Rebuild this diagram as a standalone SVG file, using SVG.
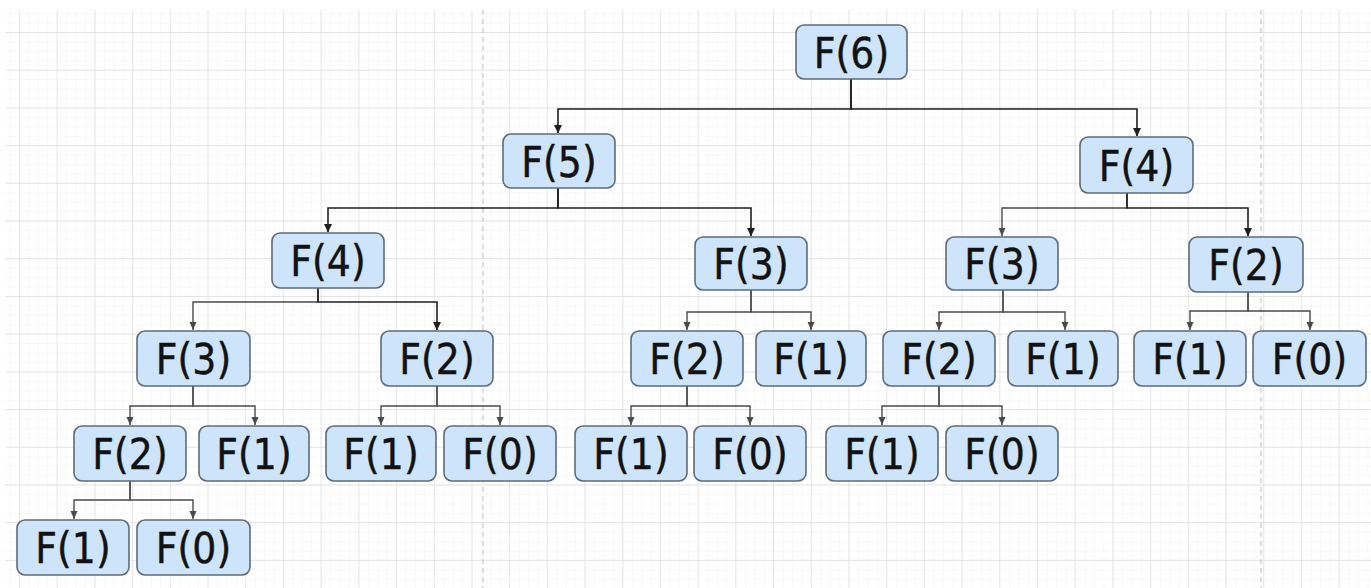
<svg xmlns="http://www.w3.org/2000/svg" width="1371" height="588" viewBox="0 0 1371 588">
  <defs>
    <pattern id="minor" x="19" y="32" width="9.43" height="9.43" patternUnits="userSpaceOnUse">
      <path d="M0,0 V9.43 M0,0 H9.43" fill="none" stroke="#efefef" stroke-width="1"/>
    </pattern>
    <pattern id="major" x="19" y="32" width="37.7" height="37.7" patternUnits="userSpaceOnUse">
      <path d="M0,0 V37.7 M0,0 H37.7" fill="none" stroke="#dddddd" stroke-width="1.3"/>
    </pattern>
    <marker id="arrDark" markerWidth="9" markerHeight="9" refX="8" refY="4.5" orient="auto" markerUnits="userSpaceOnUse">
      <path d="M0,0.5 L8.5,4.5 L0,8.5 Z" fill="#1e1e1e"/>
    </marker>
    <marker id="arrGray" markerWidth="9" markerHeight="9" refX="8" refY="4" orient="auto" markerUnits="userSpaceOnUse">
      <path d="M0,0.5 L8,4 L0,7.5 Z" fill="#4a4a4a"/>
    </marker>
  </defs>
  <style>
    .node rect { fill: #cde4fb; stroke: #5f6b78; stroke-width: 1.6; }
    .node text { font-family: 'DejaVu Sans Condensed', 'DejaVu Sans', sans-serif; font-stretch: semi-condensed; font-size: 42px; fill: #121212; stroke: #121212; stroke-width: 0.4; text-anchor: middle; }
    .top { fill: none; stroke: #1e1e1e; stroke-width: 1.6; marker-end: url(#arrDark); }
    .low { fill: none; stroke: #4a4a4a; stroke-width: 1.4; marker-end: url(#arrGray); }
    .guide { stroke: #bdbdbd; stroke-width: 1; stroke-dasharray: 5 4; }
  </style>

  <!-- canvas background with grid -->
  <rect width="1371" height="588" fill="#ffffff"/>
  <rect x="5" y="10" width="1366" height="578" fill="url(#minor)"/>
  <rect x="5" y="10" width="1366" height="578" fill="url(#major)"/>
  <line class="guide" x1="483" y1="10" x2="483" y2="588"/>
  <line class="guide" x1="1261" y1="10" x2="1261" y2="588"/>

  <!-- connectors -->
  <g id="connectors">
    <path class="top" d="M851,79 V109 H558 V133"/>
    <path class="top" d="M851,79 V109 H1137 V136"/>
    <path class="top" d="M558,188 V208 H328 V232"/>
    <path class="top" d="M558,188 V208 H751 V236"/>
    <path class="low" d="M1127,193 V208 H1002 V236"/>
    <path class="top" d="M1127,193 V208 H1248 V236"/>
    <path class="low" d="M318,288 V302 H193 V330"/>
    <path class="top" d="M318,288 V302 H437 V330"/>
    <path class="low" d="M751,290 V312 H687 V330"/>
    <path class="low" d="M751,290 V312 H811 V330"/>
    <path class="low" d="M1003,290 V312 H939 V330"/>
    <path class="low" d="M1003,290 V312 H1065 V330"/>
    <path class="low" d="M1248,292 V311 H1190 V330"/>
    <path class="low" d="M1248,292 V311 H1310 V330"/>
    <path class="low" d="M193,386 V406 H130 V425"/>
    <path class="low" d="M193,386 V406 H255 V425"/>
    <path class="low" d="M437,386 V406 H381 V425"/>
    <path class="low" d="M437,386 V406 H500 V425"/>
    <path class="low" d="M687,386 V406 H631 V425"/>
    <path class="low" d="M687,386 V406 H750 V425"/>
    <path class="low" d="M939,386 V406 H882 V425"/>
    <path class="low" d="M939,386 V406 H1002 V425"/>
    <path class="low" d="M130,481 V500 H74 V519"/>
    <path class="low" d="M130,481 V500 H193 V519"/>
  </g>

  <!-- level 0 -->
  <g id="f6" class="node"><rect x="796" y="25" width="111" height="54" rx="8"/><text x="851.5" y="68">F(6)</text></g>
  <!-- level 1 -->
  <g id="f5" class="node"><rect x="503" y="134" width="112" height="54" rx="8"/><text x="559" y="177">F(5)</text></g>
  <g id="f4r" class="node"><rect x="1080" y="137" width="113" height="56" rx="8"/><text x="1136.5" y="181">F(4)</text></g>
  <!-- level 2 -->
  <g id="f4l" class="node"><rect x="272" y="233" width="112" height="55" rx="8"/><text x="328" y="276">F(4)</text></g>
  <g id="f3m" class="node"><rect x="695" y="237" width="112" height="53" rx="8"/><text x="751" y="279">F(3)</text></g>
  <g id="f3r" class="node"><rect x="946" y="237" width="112" height="53" rx="8"/><text x="1002" y="279">F(3)</text></g>
  <g id="f2r" class="node"><rect x="1189" y="237" width="114" height="55" rx="8"/><text x="1246" y="280">F(2)</text></g>
  <!-- level 3 -->
  <g id="f3l" class="node"><rect x="137" y="331" width="113" height="55" rx="8"/><text x="193.5" y="374">F(3)</text></g>
  <g id="f2a" class="node"><rect x="381" y="331" width="112" height="55" rx="8"/><text x="437" y="374">F(2)</text></g>
  <g id="f2b" class="node"><rect x="631" y="331" width="112" height="55" rx="8"/><text x="687" y="374">F(2)</text></g>
  <g id="f1a" class="node"><rect x="756" y="331" width="110" height="55" rx="8"/><text x="811" y="374">F(1)</text></g>
  <g id="f2c" class="node"><rect x="883" y="331" width="112" height="55" rx="8"/><text x="939" y="374">F(2)</text></g>
  <g id="f1b" class="node"><rect x="1008" y="331" width="110" height="55" rx="8"/><text x="1063" y="374">F(1)</text></g>
  <g id="f1c" class="node"><rect x="1134" y="331" width="112" height="55" rx="8"/><text x="1190" y="374">F(1)</text></g>
  <g id="f0a" class="node"><rect x="1253" y="331" width="113" height="55" rx="8"/><text x="1309.5" y="374">F(0)</text></g>
  <!-- level 4 -->
  <g id="f2d" class="node"><rect x="74" y="426" width="112" height="55" rx="8"/><text x="130" y="469">F(2)</text></g>
  <g id="f1d" class="node"><rect x="199" y="426" width="110" height="55" rx="8"/><text x="254" y="469">F(1)</text></g>
  <g id="f1e" class="node"><rect x="326" y="426" width="110" height="55" rx="8"/><text x="381" y="469">F(1)</text></g>
  <g id="f0b" class="node"><rect x="444" y="426" width="112" height="55" rx="8"/><text x="500" y="469">F(0)</text></g>
  <g id="f1f" class="node"><rect x="575" y="426" width="112" height="55" rx="8"/><text x="631" y="469">F(1)</text></g>
  <g id="f0c" class="node"><rect x="694" y="426" width="112" height="55" rx="8"/><text x="750" y="469">F(0)</text></g>
  <g id="f1g" class="node"><rect x="826" y="426" width="112" height="55" rx="8"/><text x="882" y="469">F(1)</text></g>
  <g id="f0d" class="node"><rect x="946" y="426" width="112" height="55" rx="8"/><text x="1002" y="469">F(0)</text></g>
  <!-- level 5 -->
  <g id="f1h" class="node"><rect x="17" y="520" width="112" height="55" rx="8"/><text x="73" y="563">F(1)</text></g>
  <g id="f0e" class="node"><rect x="137" y="520" width="113" height="55" rx="8"/><text x="193.5" y="563">F(0)</text></g>
</svg>
